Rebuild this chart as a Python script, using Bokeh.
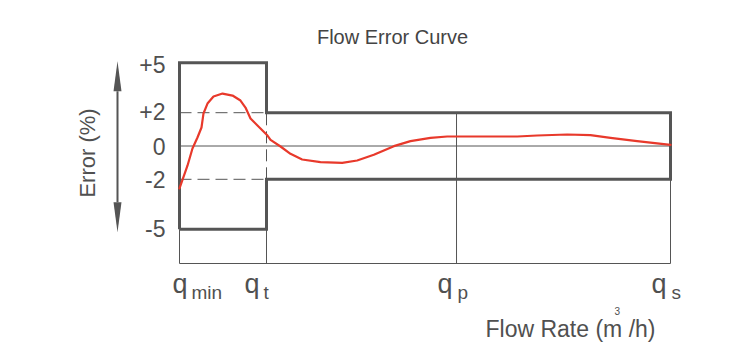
import math
from bokeh.plotting import figure
from bokeh.models import Range1d, ColumnDataSource
from bokeh.core.properties import value
from bokeh.embed import file_html
from bokeh.resources import INLINE

# ---------------- data ----------------
# characteristic flow rates (schematic units along the flow axis)
flow_names = ["q", "q", "q", "q"]
flow_subscripts = ["min", "t", "p", "s"]
flow_pos = [0.0, 8.86, 28.21, 50.0]          # q_min, q_t, q_p, q_s

# error axis (%)
error_ticks = [5, 2, 0, -2, -5]
error_tick_labels = ["+5", "+2", "0", "-2", "-5"]
mpe_lower_zone = 5      # maximum permissible error between q_min and q_t
mpe_upper_zone = 2      # maximum permissible error between q_t and q_s

# measured error curve
curve_q = [0.0, 0.82, 1.32, 1.83, 2.24, 2.44, 2.85, 3.46, 4.38, 5.40, 6.21,
           6.72, 7.23, 7.94, 8.96, 9.27, 10.29, 11.30, 12.49, 14.36, 16.57,
           18.09, 19.79, 21.83, 23.52, 25.56, 27.26, 28.61, 30.99, 34.39,
           36.42, 39.48, 41.85, 43.89, 46.60, 50.0]
curve_err = [-2.55, -1.17, -0.15, 0.51, 1.11, 1.95, 2.55, 2.97, 3.15, 3.03,
             2.73, 2.31, 1.65, 1.23, 0.63, 0.37, -0.03, -0.47, -0.81, -0.97,
             -1.01, -0.87, -0.53, -0.01, 0.29, 0.49, 0.57, 0.57, 0.57, 0.57,
             0.63, 0.69, 0.65, 0.49, 0.29, 0.07]

title_text = "Flow Error Curve"
y_title = "Error (%)"
x_title = "Flow Rate (m /h)"
x_title_sup = "3"

# ---------------- layout / style ----------------
W, H = 750, 355
PX_X = 491 / 50.0          # pixels per flow unit
PX_Y = 16.65               # pixels per error %
ORIG_X, ORIG_Y = 179, 145.5   # pixel position of (q_min, 0)

def dx(px):   # pixel column -> data x (layout helper for texts)
    return (px - ORIG_X) / PX_X

def dy(py):   # pixel row -> data y (layout helper for texts)
    return (ORIG_Y - py) / PX_Y

DARK = "#555555"
TEXT = "#505050"
RED = "#e8392b"
FONT = value("Liberation Sans")

p = figure(width=W, height=H,
           x_range=Range1d(dx(0), dx(W)), y_range=Range1d(dy(H), dy(0)),
           min_border=0, toolbar_location=None, output_backend="svg",
           x_axis_location=None, y_axis_location=None)
p.grid.visible = False
p.outline_line_color = None
p.background_fill_color = "white"
p.border_fill_color = "white"

qmin, qt, qp, qs = flow_pos
floor = dy(263)    # baseline of the flow axis

# thin reference lines
p.segment(x0=[qmin, qmin, qt, qp, qs, qmin],
          y0=[0, -mpe_lower_zone, -mpe_lower_zone, mpe_upper_zone, -mpe_upper_zone, floor],
          x1=[qs, qmin, qt, qp, qs, qs],
          y1=[0, floor, floor, floor, floor, floor],
          line_color=DARK, line_width=1)

# dashed limits inside the low-flow zone
p.segment(x0=[qmin, qmin, qt], y0=[mpe_upper_zone, -mpe_upper_zone, -mpe_upper_zone],
          x1=[qt, qt, qt], y1=[mpe_upper_zone, -mpe_upper_zone, mpe_upper_zone],
          line_color=DARK, line_width=1, line_dash="12 6")

# error envelope
env_x = [qmin, qmin, qt, qt, qs, qs, qt, qt, qmin]
env_y = [-mpe_lower_zone, mpe_lower_zone, mpe_lower_zone, mpe_upper_zone,
         mpe_upper_zone, -mpe_upper_zone, -mpe_upper_zone, -mpe_lower_zone,
         -mpe_lower_zone]
p.line(env_x, env_y, line_color=DARK, line_width=3, line_join="miter")

# error curve
p.line(curve_q, curve_err, line_color=RED, line_width=2.2, line_join="round",
       line_cap="round")

# double-headed arrow beside the error axis
ax = dx(117)
top_tip = max(error_ticks) + 1.5 / PX_Y
bot_tip = min(error_ticks) - 3.0 / PX_Y
head_len = 30 / PX_Y
half_w = 4 / PX_X
p.segment(x0=[ax], y0=[top_tip - head_len], x1=[ax], y1=[bot_tip + head_len],
          line_color=DARK, line_width=2)
p.patches(xs=[[ax, ax - half_w, ax + half_w], [ax, ax - half_w, ax + half_w]],
          ys=[[top_tip, top_tip - head_len, top_tip - head_len],
              [bot_tip, bot_tip + head_len, bot_tip + head_len]],
          fill_color=DARK, line_color=None)

# error tick labels
p.text(x=[dx(165)] * len(error_ticks), y=error_ticks, text=error_tick_labels,
       y_offset=[2, -1, 0, 0, -1],
       text_font=FONT, text_font_size="23px", text_color=TEXT,
       text_align="right", text_baseline="middle")

# flow tick labels with subscripts
q_src = ColumnDataSource(dict(x=flow_pos, t=flow_names, s=flow_subscripts,
                              qoff=[-7, -22, -19, -19], soff=[12, -3, 1, 1]))
p.text(x="x", y=dy(283), text="t", x_offset="qoff", source=q_src,
       text_font=FONT, text_font_size="27px", text_color=TEXT,
       text_align="left", text_baseline="alphabetic")
p.text(x="x", y=dy(292), text="s", x_offset="soff", source=q_src,
       text_font=FONT, text_font_size="19px", text_color=TEXT,
       text_align="left", text_baseline="alphabetic")

# titles
p.text(x=[dx(392)], y=[dy(36.7)], text=[title_text], text_font=FONT,
       text_font_size="20px", text_color="#444444", text_align="center",
       text_baseline="alphabetic")
p.text(x=[dx(87)], y=[dy(152.5)], text=[y_title], angle=math.pi / 2,
       text_font=FONT, text_font_size="22px", text_color=TEXT,
       text_align="center", text_baseline="middle")
p.text(x=[dx(485)], y=[dy(328)], text=[x_title], text_font=FONT,
       text_font_size="23px", text_color=TEXT, text_align="left",
       text_baseline="alphabetic")
p.text(x=[dx(614)], y=[dy(310.5)], text=[x_title_sup], text_font=FONT,
       text_font_size="10px", text_color=TEXT, text_align="left",
       text_baseline="alphabetic")

open("out.html", "w").write(file_html(p, INLINE))
